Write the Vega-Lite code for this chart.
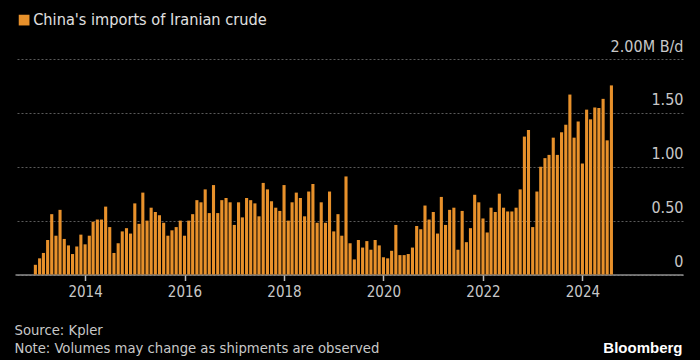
{
  "$schema": "https://vega.github.io/schema/vega-lite/v6.json",
  "width": 668,
  "height": 215.5,
  "autosize": {"type": "none"},
  "padding": {"left": 15, "top": 59, "right": 17, "bottom": 85.5},
  "background": "#000000",
  "config": {
    "view": {"stroke": null},
    "font": "Liberation Sans Narrow, DejaVu Sans Condensed, sans-serif"
  },
  "data": {
    "values": [
      {"date": "2013-01-01", "mbd": 0.09}, {"date": "2013-02-01", "mbd": 0.15}, {"date": "2013-03-01", "mbd": 0.20},
      {"date": "2013-04-01", "mbd": 0.32}, {"date": "2013-05-01", "mbd": 0.56}, {"date": "2013-06-01", "mbd": 0.36},
      {"date": "2013-07-01", "mbd": 0.60}, {"date": "2013-08-01", "mbd": 0.33}, {"date": "2013-09-01", "mbd": 0.27},
      {"date": "2013-10-01", "mbd": 0.19}, {"date": "2013-11-01", "mbd": 0.26}, {"date": "2013-12-01", "mbd": 0.37},
      {"date": "2014-01-01", "mbd": 0.28}, {"date": "2014-02-01", "mbd": 0.36}, {"date": "2014-03-01", "mbd": 0.49},
      {"date": "2014-04-01", "mbd": 0.51}, {"date": "2014-05-01", "mbd": 0.51}, {"date": "2014-06-01", "mbd": 0.63},
      {"date": "2014-07-01", "mbd": 0.44}, {"date": "2014-08-01", "mbd": 0.20}, {"date": "2014-09-01", "mbd": 0.29},
      {"date": "2014-10-01", "mbd": 0.40}, {"date": "2014-11-01", "mbd": 0.43}, {"date": "2014-12-01", "mbd": 0.38},
      {"date": "2015-01-01", "mbd": 0.66}, {"date": "2015-02-01", "mbd": 0.47}, {"date": "2015-03-01", "mbd": 0.76},
      {"date": "2015-04-01", "mbd": 0.50}, {"date": "2015-05-01", "mbd": 0.62}, {"date": "2015-06-01", "mbd": 0.58},
      {"date": "2015-07-01", "mbd": 0.55}, {"date": "2015-08-01", "mbd": 0.48}, {"date": "2015-09-01", "mbd": 0.36},
      {"date": "2015-10-01", "mbd": 0.41}, {"date": "2015-11-01", "mbd": 0.44}, {"date": "2015-12-01", "mbd": 0.50},
      {"date": "2016-01-01", "mbd": 0.36}, {"date": "2016-02-01", "mbd": 0.50}, {"date": "2016-03-01", "mbd": 0.56},
      {"date": "2016-04-01", "mbd": 0.69}, {"date": "2016-05-01", "mbd": 0.67}, {"date": "2016-06-01", "mbd": 0.79},
      {"date": "2016-07-01", "mbd": 0.57}, {"date": "2016-08-01", "mbd": 0.83}, {"date": "2016-09-01", "mbd": 0.57},
      {"date": "2016-10-01", "mbd": 0.69}, {"date": "2016-11-01", "mbd": 0.71}, {"date": "2016-12-01", "mbd": 0.67},
      {"date": "2017-01-01", "mbd": 0.46}, {"date": "2017-02-01", "mbd": 0.67}, {"date": "2017-03-01", "mbd": 0.53},
      {"date": "2017-04-01", "mbd": 0.71}, {"date": "2017-05-01", "mbd": 0.69}, {"date": "2017-06-01", "mbd": 0.66},
      {"date": "2017-07-01", "mbd": 0.54}, {"date": "2017-08-01", "mbd": 0.85}, {"date": "2017-09-01", "mbd": 0.79},
      {"date": "2017-10-01", "mbd": 0.68}, {"date": "2017-11-01", "mbd": 0.62}, {"date": "2017-12-01", "mbd": 0.59},
      {"date": "2018-01-01", "mbd": 0.83}, {"date": "2018-02-01", "mbd": 0.50}, {"date": "2018-03-01", "mbd": 0.67},
      {"date": "2018-04-01", "mbd": 0.76}, {"date": "2018-05-01", "mbd": 0.71}, {"date": "2018-06-01", "mbd": 0.54},
      {"date": "2018-07-01", "mbd": 0.77}, {"date": "2018-08-01", "mbd": 0.84}, {"date": "2018-09-01", "mbd": 0.48},
      {"date": "2018-10-01", "mbd": 0.67}, {"date": "2018-11-01", "mbd": 0.48}, {"date": "2018-12-01", "mbd": 0.77},
      {"date": "2019-01-01", "mbd": 0.40}, {"date": "2019-02-01", "mbd": 0.56}, {"date": "2019-03-01", "mbd": 0.36},
      {"date": "2019-04-01", "mbd": 0.91}, {"date": "2019-05-01", "mbd": 0.29}, {"date": "2019-06-01", "mbd": 0.14},
      {"date": "2019-07-01", "mbd": 0.32}, {"date": "2019-08-01", "mbd": 0.25}, {"date": "2019-09-01", "mbd": 0.31},
      {"date": "2019-10-01", "mbd": 0.23}, {"date": "2019-11-01", "mbd": 0.32}, {"date": "2019-12-01", "mbd": 0.27},
      {"date": "2020-01-01", "mbd": 0.16}, {"date": "2020-02-01", "mbd": 0.15}, {"date": "2020-03-01", "mbd": 0.22},
      {"date": "2020-04-01", "mbd": 0.46}, {"date": "2020-05-01", "mbd": 0.18}, {"date": "2020-06-01", "mbd": 0.18},
      {"date": "2020-07-01", "mbd": 0.19}, {"date": "2020-08-01", "mbd": 0.25}, {"date": "2020-09-01", "mbd": 0.45},
      {"date": "2020-10-01", "mbd": 0.42}, {"date": "2020-11-01", "mbd": 0.64}, {"date": "2020-12-01", "mbd": 0.51},
      {"date": "2021-01-01", "mbd": 0.58}, {"date": "2021-02-01", "mbd": 0.38}, {"date": "2021-03-01", "mbd": 0.72},
      {"date": "2021-04-01", "mbd": 0.46}, {"date": "2021-05-01", "mbd": 0.60}, {"date": "2021-06-01", "mbd": 0.62},
      {"date": "2021-07-01", "mbd": 0.23}, {"date": "2021-08-01", "mbd": 0.59}, {"date": "2021-09-01", "mbd": 0.30},
      {"date": "2021-10-01", "mbd": 0.43}, {"date": "2021-11-01", "mbd": 0.74}, {"date": "2021-12-01", "mbd": 0.67},
      {"date": "2022-01-01", "mbd": 0.52}, {"date": "2022-02-01", "mbd": 0.39}, {"date": "2022-03-01", "mbd": 0.62},
      {"date": "2022-04-01", "mbd": 0.58}, {"date": "2022-05-01", "mbd": 0.75}, {"date": "2022-06-01", "mbd": 0.62},
      {"date": "2022-07-01", "mbd": 0.585}, {"date": "2022-08-01", "mbd": 0.585}, {"date": "2022-09-01", "mbd": 0.62},
      {"date": "2022-10-01", "mbd": 0.79}, {"date": "2022-11-01", "mbd": 1.28}, {"date": "2022-12-01", "mbd": 1.34},
      {"date": "2023-01-01", "mbd": 0.44}, {"date": "2023-02-01", "mbd": 0.77}, {"date": "2023-03-01", "mbd": 1.00},
      {"date": "2023-04-01", "mbd": 1.08}, {"date": "2023-05-01", "mbd": 1.11}, {"date": "2023-06-01", "mbd": 1.27},
      {"date": "2023-07-01", "mbd": 1.11}, {"date": "2023-08-01", "mbd": 1.32}, {"date": "2023-09-01", "mbd": 1.39},
      {"date": "2023-10-01", "mbd": 1.67}, {"date": "2023-11-01", "mbd": 1.27}, {"date": "2023-12-01", "mbd": 1.42},
      {"date": "2024-01-01", "mbd": 1.03}, {"date": "2024-02-01", "mbd": 1.53}, {"date": "2024-03-01", "mbd": 1.44},
      {"date": "2024-04-01", "mbd": 1.55}, {"date": "2024-05-01", "mbd": 1.545}, {"date": "2024-06-01", "mbd": 1.63},
      {"date": "2024-07-01", "mbd": 1.245}, {"date": "2024-08-01", "mbd": 1.755}
    ]
  },
  "mark": {"type": "bar", "width": 3.1},
  "encoding": {
    "x": {
      "field": "date",
      "type": "temporal",
      "scale": {
        "type": "utc",
        "domain": [
          {"year": 2012, "month": 9, "date": 10, "utc": true},
          {"year": 2025, "month": 12, "date": 3, "utc": true}
        ]
      },
      "axis": {
        "values": [
          {"year": 2014, "month": 1, "date": 1, "utc": true},
          {"year": 2016, "month": 1, "date": 1, "utc": true},
          {"year": 2018, "month": 1, "date": 1, "utc": true},
          {"year": 2020, "month": 1, "date": 1, "utc": true},
          {"year": 2022, "month": 1, "date": 1, "utc": true},
          {"year": 2024, "month": 1, "date": 1, "utc": true}
        ],
        "format": "%Y",
        "grid": false,
        "domain": true,
        "domainColor": "#8c8c8c",
        "domainWidth": 1.5,
        "ticks": true,
        "tickColor": "#bdbdbd",
        "tickSize": 6,
        "tickWidth": 1.5,
        "labelColor": "#c8c8c8",
        "labelFontSize": 15,
        "labelPadding": 4,
        "labelFlush": false,
        "title": ["Source: Kpler", "Note: Volumes may change as shipments are observed"],
        "titleX": -1,
        "titleY": 60,
        "titleAlign": "left",
        "titleAnchor": null,
        "titleBaseline": "alphabetic",
        "titleColor": "#c8c8c8",
        "titleFontSize": 14.7,
        "titleFontWeight": "normal",
        "titleLineHeight": 18
      }
    },
    "y": {
      "field": "mbd",
      "type": "quantitative",
      "scale": {"domain": [0, 2], "nice": false},
      "axis": {
        "orient": "right",
        "values": [0, 0.5, 1, 1.5, 2],
        "labelExpr": "datum.value == 2 ? '2.00M B/d' : datum.value == 0 ? '0' : format(datum.value, '.2f')",
        "domain": false,
        "ticks": false,
        "tickSize": 0,
        "labelPadding": 0,
        "labelAlign": "right",
        "labelBaseline": "alphabetic",
        "labelOffset": -8,
        "labelColor": "#c8c8c8",
        "labelFontSize": 16,
        "grid": true,
        "gridColor": "#5a5a5a",
        "gridDash": [2, 2],
        "gridWidth": 1,
        "title": "Bloomberg",
        "titleAngle": 0,
        "titleX": -1,
        "titleY": 293,
        "titleAlign": "right",
        "titleAnchor": null,
        "titleBaseline": "alphabetic",
        "titleColor": "#ffffff",
        "titleFontSize": 15,
        "titleFontWeight": "bold",
        "titleFont": "Liberation Sans, Arial, sans-serif"
      }
    },
    "color": {
      "datum": "China's imports of Iranian crude",
      "type": "nominal",
      "scale": {"range": ["#e8912b"]},
      "legend": {
        "orient": "none",
        "legendX": 1,
        "legendY": -47,
        "title": null,
        "padding": 0,
        "symbolType": "square",
        "symbolSize": 115,
        "symbolStrokeWidth": 0,
        "symbolOpacity": 1,
        "labelColor": "#e0e0e0",
        "labelFontSize": 16.2,
        "labelOffset": 1,
        "labelLimit": 400
      }
    }
  }
}
